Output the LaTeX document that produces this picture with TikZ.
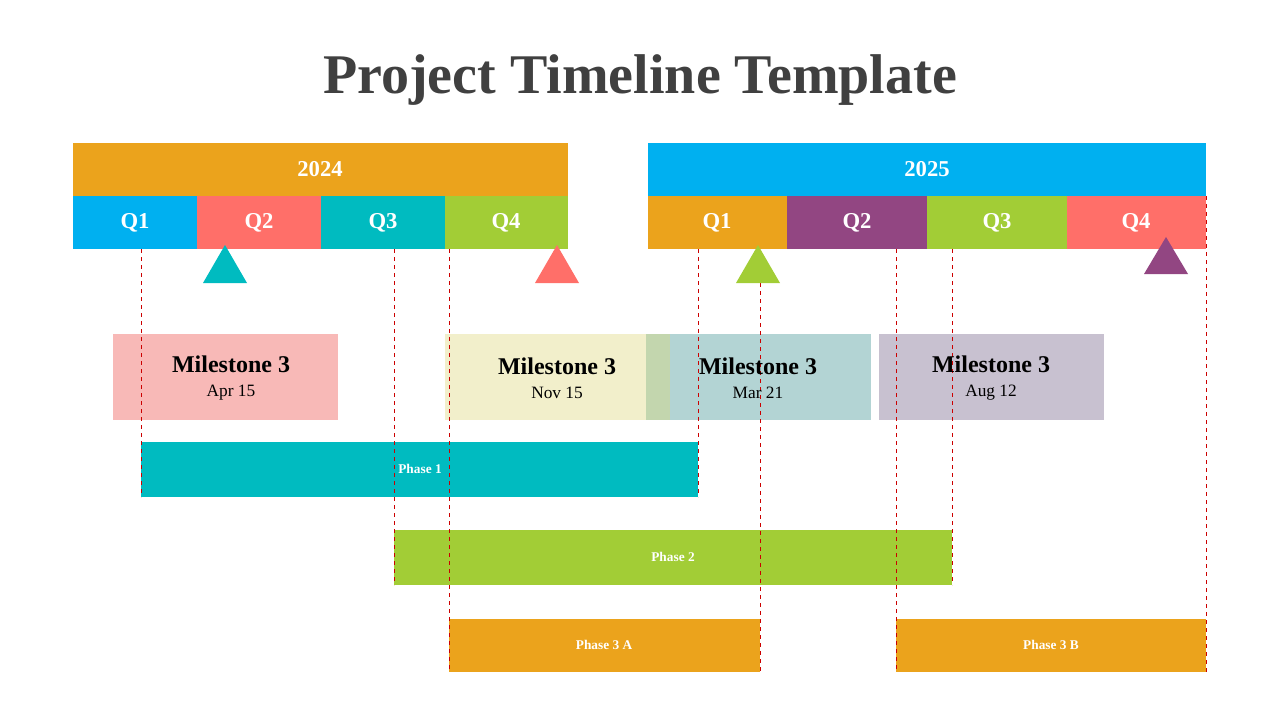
\documentclass[tikz,border=0pt]{standalone}
\usepackage{fontspec}
\setmainfont{Liberation Serif}
\begin{document}
\begin{tikzpicture}[x=0.75pt,y=-0.75pt]
\definecolor{cor}{HTML}{EBA31C}\definecolor{cbl}{HTML}{00B0F0}\definecolor{cre}{HTML}{FF6F69}
\definecolor{cte}{HTML}{00BBC0}\definecolor{cgr}{HTML}{A2CD36}\definecolor{cpu}{HTML}{924682}
\definecolor{mpk}{HTML}{F8B9B7}\definecolor{mye}{HTML}{F2EFCB}\definecolor{mte}{HTML}{B3D4D4}
\definecolor{mpu}{HTML}{C8C1D0}\definecolor{mov}{HTML}{C3D6AE}\definecolor{ttl}{HTML}{404040}
\tikzset{lab/.style={text=white,font=\bfseries\fontsize{17}{20}\selectfont},
 ph/.style={text=white,font=\bfseries\fontsize{10}{12}\selectfont},
 ms/.style={align=center,font=\fontsize{13}{18}\selectfont},
 guide/.style={draw=red!80!black,dashed,line width=0.6pt},
 tri/.style={fill=#1}}
\useasboundingbox (0,0) rectangle (1280,720);
\node[text=ttl,font=\bfseries\fontsize{42}{48}\selectfont] (title) at (640,80) {Project Timeline Template};
% years
\fill[cor] (73,143) rectangle (568,196); \node[lab] (y1) at (320,169) {2024};
\fill[cbl] (648,143) rectangle (1206,196); \node[lab] (y2) at (927,169) {2025};
% quarters
\fill[cbl] (73,196) rectangle (197,249); \node[lab] (a1) at (135,223) {Q1};
\fill[cre] (197,196) rectangle (321,249); \node[lab] (a2) at (259,223) {Q2};
\fill[cte] (321,196) rectangle (445,249); \node[lab] (a3) at (383,223) {Q3};
\fill[cgr] (445,196) rectangle (568,249); \node[lab] (a4) at (506,223) {Q4};
\fill[cor] (648,196) rectangle (787,249); \node[lab] (b1) at (717,223) {Q1};
\fill[cpu] (787,196) rectangle (927,249); \node[lab] (b2) at (857,223) {Q2};
\fill[cgr] (927,196) rectangle (1067,249); \node[lab] (b3) at (997,223) {Q3};
\fill[cre] (1067,196) rectangle (1206,249); \node[lab] (b4) at (1136,223) {Q4};
% milestones
\fill[mpk] (113,334) rectangle (338,420);
\fill[mye] (445,334) rectangle (670,420);
\fill[mte] (646,334) rectangle (871,420);
\fill[mov] (646,334) rectangle (670,420);
\fill[mpu] (879,334) rectangle (1104,420);
% phases
\fill[cte] (141,442) rectangle (698,497); \node[ph] (p1) at (420,469) {Phase 1};
\fill[cgr] (394,530) rectangle (952,585); \node[ph] (p2) at (673,557) {Phase 2};
\fill[cor] (449,619) rectangle (760,672); \node[ph] (p3) at (604,645) {Phase 3 A};
\fill[cor] (896,619) rectangle (1206,672); \node[ph] (p4) at (1051,645) {Phase 3 B};
% guides
\draw[guide] (141,249) -- (141,497);
\draw[guide] (394,249) -- (394,585);
\draw[guide] (449,249) -- (449,672);
\draw[guide] (698,249) -- (698,497);
\draw[guide] (760,283) -- (760,672);
\draw[guide] (896,249) -- (896,672);
\draw[guide] (952,249) -- (952,585);
\draw[guide] (1206,196) -- (1206,672);
% triangles
\fill[cte] (203,283) -- (225,245) -- (247,283) -- cycle;
\fill[cre] (535,283) -- (557,245) -- (579,283) -- cycle;
\fill[cgr] (736,283) -- (758,245) -- (780,283) -- cycle;
\fill[cpu] (1144,274) -- (1166,237) -- (1188,274) -- cycle;
% milestone texts
\node[ms] (m1) at (231,378) {\textbf{\fontsize{18}{22}\selectfont Milestone 3}\\Apr 15};
\node[ms] (m2) at (557,378) {\textbf{\fontsize{18}{22}\selectfont Milestone 3}\\Nov 15};
\node[ms] (m3) at (758,378) {\textbf{\fontsize{18}{22}\selectfont Milestone 3}\\Mar 21};
\node[ms] (m4) at (991,378) {\textbf{\fontsize{18}{22}\selectfont Milestone 3}\\Aug 12};
\end{tikzpicture}
\end{document}
